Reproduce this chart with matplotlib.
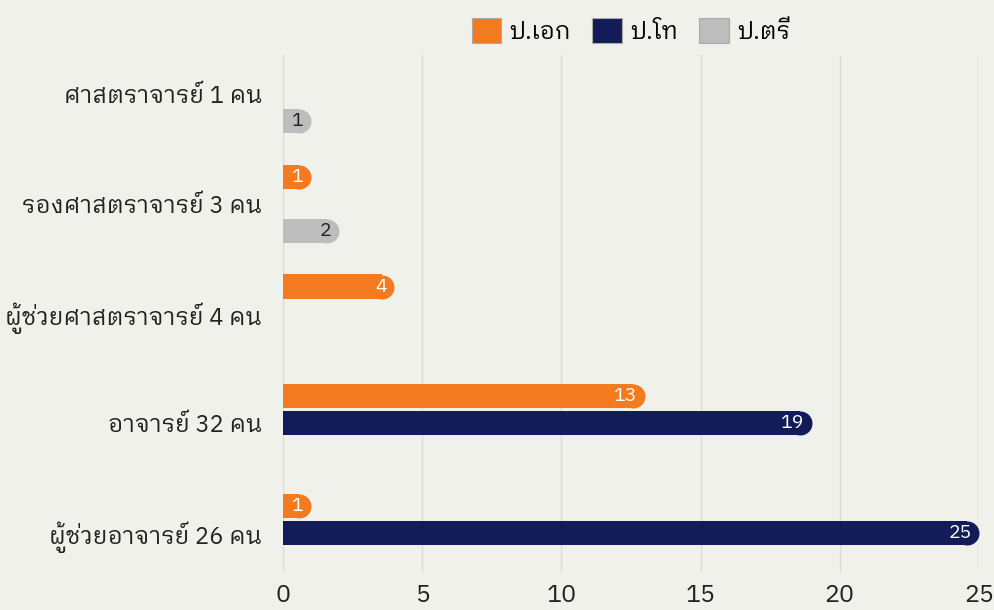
import matplotlib
matplotlib.use("Agg")
import matplotlib.pyplot as plt
from matplotlib import font_manager
from matplotlib.ft2font import FT2Font
import numpy as np

categories = ["ศาสตราจารย์ 1 คน", "รองศาสตราจารย์ 3 คน", "ผู้ช่วยศาสตราจารย์ 4 คน",
              "อาจารย์ 32 คน", "ผู้ช่วยอาจารย์ 26 คน"]
series = ["ป.เอก", "ป.โท", "ป.ตรี"]
phd = [0, 1, 4, 13, 1]
master = [0, 0, 0, 19, 25]
bachelor = [1, 2, 0, 0, 0]
colors = ["#f47a1f", "#121c58", "#bdbdbd"]
label_colors = ["white", "white", "#222222"]
xticks = [0, 5, 10, 15, 20, 25]

# pick a font that has thai glyphs, prefer a looped one
thai_fonts = []
all_names = set()
for f in font_manager.fontManager.ttflist:
    all_names.add(f.name)
    try:
        if 0x0E01 in FT2Font(f.fname).get_charmap():
            thai_fonts.append(f.name)
    except Exception:
        pass
thai_fonts = sorted(set(thai_fonts))
main_font = thai_fonts[:1]
for name in ["IBM Plex Sans Thai Looped", "Noto Sans Thai Looped", "IBM Plex Sans Thai"]:
    if name in thai_fonts:
        main_font = [name]
        break
extra = [n for n in ["IBM Plex Sans"] if n in all_names]
plt.rcParams['font.family'] = main_font + extra + ['DejaVu Sans']

bg = "#f1f1ec"
fig = plt.figure(figsize=(9.95, 6.10), dpi=100, facecolor=bg)
ax = fig.add_axes([0.2844, 0.0623, 0.6995, 0.8475], facecolor=bg)

y = np.arange(len(categories))
offsets = [-0.246, 0, 0.246]
h = 0.219
# rounding radius in data units (12 px)
r = 12 * 25 / 696

for vals, off, col, lc in zip([phd, master, bachelor], offsets, colors, label_colors):
    for yi, v in zip(y, vals):
        if v <= 0:
            continue
        ax.barh(yi + off, v - r, height=h, color=col, zorder=3)
        ax.scatter([v - r], [yi + off], s=(24 * 0.72) ** 2, color=col, marker='o',
                   linewidths=0, zorder=3)
        ax.text(v - 0.26, yi + off, str(v), ha='right', va='center', color=lc,
                fontsize=14, zorder=4)

ax.set_xlim(0, 25)
ax.set_ylim(4.355, -0.355)
ax.set_xticks(xticks)
ax.set_yticks(y)
ax.set_yticklabels(categories, fontsize=17)
ax.tick_params(axis='x', labelsize=18, length=0, pad=9, colors="#222222")
ax.tick_params(axis='y', length=0, pad=15, colors="#222222")
ax.grid(axis='x', color="#dcdcd6", linewidth=1, zorder=0)
for s in ax.spines.values():
    s.set_visible(False)

handles = [plt.Rectangle((0, 0), 1, 1, facecolor=c, edgecolor="#aaaaaa", linewidth=0.8) for c in colors]
fig.legend(handles, series, loc='center', bbox_to_anchor=(0.634, 0.949), ncol=3, frameon=False,
           fontsize=17, handlelength=1.25, handleheight=1.25, handletextpad=0.35, columnspacing=0.9)

fig.savefig("out.png", dpi=100, facecolor=bg)
